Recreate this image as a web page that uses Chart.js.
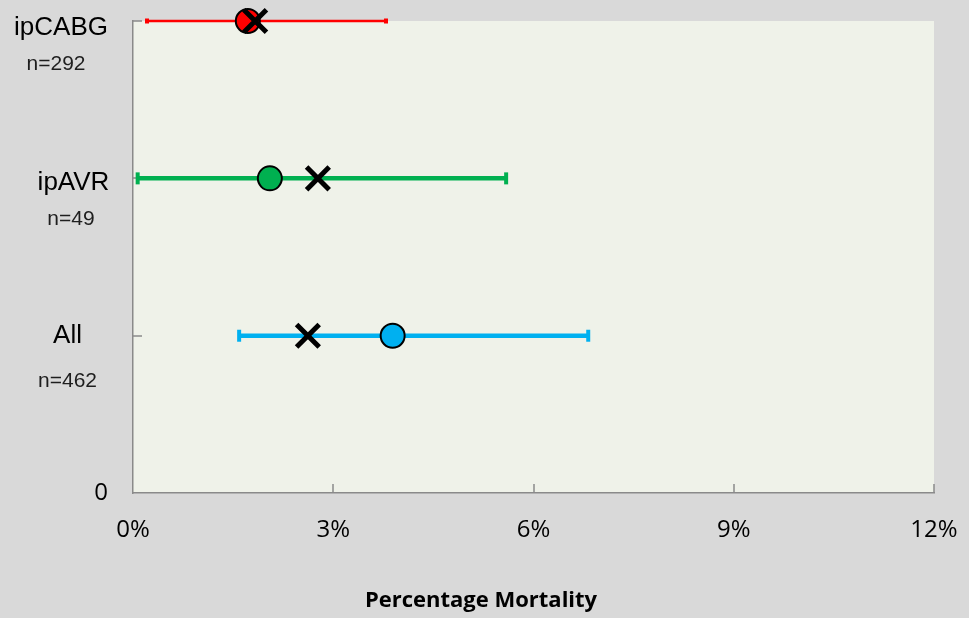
<!DOCTYPE html>
<html>
<head>
<meta charset="utf-8">
<title>Percentage Mortality</title>
<script src="https://cdn.jsdelivr.net/npm/chart.js@4/dist/chart.umd.min.js"></script>
<style>
  html, body { margin: 0; padding: 0; background: #d9d9d9; }
  canvas { display: block; }
</style>
</head>
<body>
<canvas id="chart" width="969" height="618"></canvas>
<script>
// Groups, bottom to top on the vertical axis
const groups = ['All', 'ipAVR', 'ipCABG'];
const groupLevels = [1, 2, 3];
const sampleSizes = ['n=462', 'n=49', 'n=292'];

// Mortality (%) per group
const observedMortality = [3.89, 2.05, 1.72];   // circles
const expectedMortality = [2.62, 2.77, 1.83];   // crosses
const ciLower = [1.59, 0.07, 0.21];
const ciUpper = [6.82, 5.59, 3.79];

// Axis ticks
const xTicks = [0, 3, 6, 9, 12];
const yTicks = [0, 1, 2, 3];

const groupColors = ['#00b0f0', '#00b050', '#ff0000'];
const axisGray = '#8a8a8a';

// Per-group label placement relative to the group's level pixel
const labelPlacement = [
  { nameX: 67.5, nameDy: 7,  nX: 67.5, nDy: 51 },
  { nameX: 73.5, nameDy: 12, nX: 71,   nDy: 47 },
  { nameX: 61,   nameDy: 14, nX: 56,   nDy: 49 }
];

// Confidence interval bars: one line dataset per group with end caps
const ciDatasets = groups.map((g, i) => {
  const thin = g === 'ipCABG';
  return {
    label: g + ' CI',
    type: 'scatter',
    showLine: true,
    data: [
      { x: ciLower[i], y: groupLevels[i] },
      { x: ciUpper[i], y: groupLevels[i] }
    ],
    borderColor: groupColors[i],
    backgroundColor: groupColors[i],
    borderWidth: thin ? 2.5 : 4.5,
    pointStyle: 'line',
    rotation: 90,
    pointRadius: thin ? 2.5 : 6,
    pointBorderWidth: 4,
    pointBorderColor: groupColors[i],
    order: 3,
    clip: false
  };
});

const observedDataset = {
  label: 'Observed',
  type: 'scatter',
  data: groups.map((g, i) => ({ x: observedMortality[i], y: groupLevels[i] })),
  pointStyle: 'circle',
  pointRadius: 12,
  pointBackgroundColor: groupColors,
  pointBorderColor: '#000000',
  pointBorderWidth: 2,
  order: 2,
  clip: false
};

const expectedDataset = {
  label: 'Expected',
  type: 'scatter',
  data: groups.map((g, i) => ({ x: expectedMortality[i], y: groupLevels[i] })),
  pointStyle: 'crossRot',
  pointRadius: 16,
  pointBorderColor: '#000000',
  pointBackgroundColor: '#000000',
  pointBorderWidth: 5,
  order: 1,
  clip: false
};

// Backgrounds, inward tick marks, the "0" level label and the group labels
const decorations = {
  id: 'decorations',
  beforeDraw(chart) {
    const { ctx, chartArea: a } = chart;
    ctx.save();
    ctx.fillStyle = '#d9d9d9';
    ctx.fillRect(0, 0, chart.width, chart.height);
    ctx.fillStyle = '#eff2e9';
    ctx.fillRect(a.left, a.top, a.right - a.left, a.bottom - a.top);
    ctx.restore();
  },
  beforeDatasetsDraw(chart) {
    const { ctx, chartArea: a, scales: { x, y } } = chart;
    ctx.save();
    ctx.strokeStyle = axisGray;
    ctx.lineWidth = 1.5;
    ctx.beginPath();
    xTicks.slice(1).forEach(v => {
      const px = Math.round(x.getPixelForValue(v));
      ctx.moveTo(px, a.bottom);
      ctx.lineTo(px, a.bottom - 9);
    });
    yTicks.slice(1).forEach(v => {
      const py = Math.round(y.getPixelForValue(v));
      ctx.moveTo(a.left, py);
      ctx.lineTo(a.left + 9, py);
    });
    ctx.stroke();
    ctx.restore();
  },
  afterDraw(chart) {
    const { ctx, chartArea: a, scales: { y } } = chart;
    ctx.save();
    ctx.fillStyle = '#000000';
    ctx.font = '24px "Open Sans", sans-serif';
    ctx.textAlign = 'right';
    ctx.textBaseline = 'middle';
    ctx.fillText(String(yTicks[0]), a.left - 25, y.getPixelForValue(yTicks[0]));

    ctx.textAlign = 'center';
    ctx.textBaseline = 'alphabetic';
    groups.forEach((g, i) => {
      const py = y.getPixelForValue(groupLevels[i]);
      const p = labelPlacement[i];
      ctx.fillStyle = '#000000';
      ctx.font = '26px "Liberation Sans", Arial, sans-serif';
      ctx.fillText(g, p.nameX, py + p.nameDy);
      ctx.fillStyle = '#1e1e1e';
      ctx.font = '21px "Liberation Sans", Arial, sans-serif';
      ctx.fillText(sampleSizes[i], p.nX, py + p.nDy);
    });
    ctx.restore();
  }
};

new Chart(document.getElementById('chart'), {
  type: 'scatter',
  data: { datasets: [expectedDataset, observedDataset, ...ciDatasets] },
  options: {
    responsive: false,
    animation: false,
    events: [],
    layout: { padding: { top: 0, right: 7, left: 0, bottom: 0 } },
    plugins: {
      legend: { display: false },
      tooltip: { enabled: false },
      title: {
        display: true,
        position: 'bottom',
        text: 'Percentage Mortality',
        color: '#000000',
        font: { family: '"Open Sans", sans-serif', size: 22, weight: 'bold' },
        padding: { top: 0, bottom: 4 }
      }
    },
    scales: {
      x: {
        type: 'linear',
        min: 0,
        max: 12,
        afterBuildTicks: s => { s.ticks = xTicks.map(v => ({ value: v })); },
        afterFit: s => { s.height = 94.5; s.paddingLeft = 0; s.paddingRight = 35; },
        grid: { display: false, drawTicks: false },
        border: { display: true, color: axisGray, width: 1.5 },
        ticks: {
          padding: 23,
          color: '#000000',
          font: { family: '"Open Sans", sans-serif', size: 24 },
          callback: v => v + '%'
        }
      },
      y: {
        type: 'linear',
        min: 0,
        max: 3,
        afterBuildTicks: s => { s.ticks = yTicks.map(v => ({ value: v })); },
        afterFit: s => { s.width = 133; s.paddingTop = 0; s.paddingBottom = 0; },
        grid: { display: false, drawTicks: false },
        border: { display: true, color: axisGray, width: 1.5 },
        ticks: { display: false }
      }
    }
  },
  plugins: [decorations]
});
</script>
</body>
</html>
